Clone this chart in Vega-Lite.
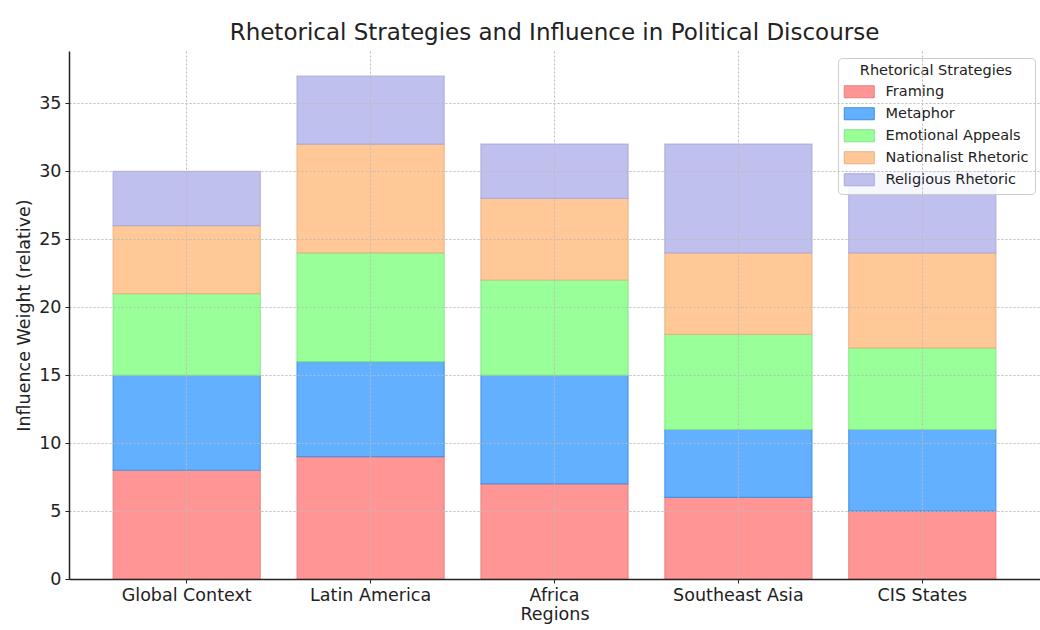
{
  "$schema": "https://vega.github.io/schema/vega-lite/v6.json",
  "width": 971,
  "height": 528,
  "autosize": {"type": "none"},
  "padding": {"left": 69, "top": 51, "right": 0, "bottom": 51},
  "background": "white",
  "title": {
    "text": "Rhetorical Strategies and Influence in Political Discourse",
    "font": "DejaVu Sans",
    "fontSize": 23,
    "fontWeight": "normal",
    "color": "#222",
    "anchor": "middle",
    "offset": 6
  },
  "config": {
    "view": {"stroke": null},
    "font": "DejaVu Sans"
  },
  "data": {
    "values": [
      {"region": "Global Context", "strategy": "Framing", "o": 1, "value": 8},
      {"region": "Global Context", "strategy": "Metaphor", "o": 2, "value": 7},
      {"region": "Global Context", "strategy": "Emotional Appeals", "o": 3, "value": 6},
      {"region": "Global Context", "strategy": "Nationalist Rhetoric", "o": 4, "value": 5},
      {"region": "Global Context", "strategy": "Religious Rhetoric", "o": 5, "value": 4},
      {"region": "Latin America", "strategy": "Framing", "o": 1, "value": 9},
      {"region": "Latin America", "strategy": "Metaphor", "o": 2, "value": 7},
      {"region": "Latin America", "strategy": "Emotional Appeals", "o": 3, "value": 8},
      {"region": "Latin America", "strategy": "Nationalist Rhetoric", "o": 4, "value": 8},
      {"region": "Latin America", "strategy": "Religious Rhetoric", "o": 5, "value": 5},
      {"region": "Africa", "strategy": "Framing", "o": 1, "value": 7},
      {"region": "Africa", "strategy": "Metaphor", "o": 2, "value": 8},
      {"region": "Africa", "strategy": "Emotional Appeals", "o": 3, "value": 7},
      {"region": "Africa", "strategy": "Nationalist Rhetoric", "o": 4, "value": 6},
      {"region": "Africa", "strategy": "Religious Rhetoric", "o": 5, "value": 4},
      {"region": "Southeast Asia", "strategy": "Framing", "o": 1, "value": 6},
      {"region": "Southeast Asia", "strategy": "Metaphor", "o": 2, "value": 5},
      {"region": "Southeast Asia", "strategy": "Emotional Appeals", "o": 3, "value": 7},
      {"region": "Southeast Asia", "strategy": "Nationalist Rhetoric", "o": 4, "value": 6},
      {"region": "Southeast Asia", "strategy": "Religious Rhetoric", "o": 5, "value": 8},
      {"region": "CIS States", "strategy": "Framing", "o": 1, "value": 5},
      {"region": "CIS States", "strategy": "Metaphor", "o": 2, "value": 6},
      {"region": "CIS States", "strategy": "Emotional Appeals", "o": 3, "value": 6},
      {"region": "CIS States", "strategy": "Nationalist Rhetoric", "o": 4, "value": 7},
      {"region": "CIS States", "strategy": "Religious Rhetoric", "o": 5, "value": 6}
    ]
  },
  "mark": {"type": "bar", "strokeWidth": 1.2, "strokeOpacity": 0.8},
  "encoding": {
    "x": {
      "field": "region",
      "type": "nominal",
      "sort": ["Global Context", "Latin America", "Africa", "Southeast Asia", "CIS States"],
      "scale": {"paddingInner": 0.2, "paddingOuter": 0.24},
      "axis": {
        "title": "Regions",
        "titleFontSize": 17.5,
        "titleFontWeight": "normal",
        "titleColor": "#222",
        "titlePadding": 2,
        "labelAngle": 0,
        "labelFontSize": 17.5,
        "labelColor": "#222",
        "labelPadding": 3,
        "domainColor": "#222",
        "domainWidth": 1.5,
        "tickColor": "#222",
        "tickSize": 4,
        "grid": true,
        "gridColor": "#bbbbbb",
        "gridDash": [2, 2],
        "gridWidth": 1,
        "zindex": 1
      }
    },
    "y": {
      "field": "value",
      "type": "quantitative",
      "stack": "zero",
      "scale": {"domain": [0, 38.85], "nice": false},
      "axis": {
        "title": "Influence Weight (relative)",
        "titleFontSize": 17.5,
        "titleFontWeight": "normal",
        "titleColor": "#222",
        "titlePadding": 5,
        "values": [0, 5, 10, 15, 20, 25, 30, 35],
        "labelFontSize": 17.5,
        "labelColor": "#222",
        "labelPadding": 4,
        "domainColor": "#222",
        "domainWidth": 1.5,
        "tickColor": "#222",
        "tickSize": 4,
        "grid": true,
        "gridColor": "#bbbbbb",
        "gridDash": [2, 2],
        "gridWidth": 1,
        "zindex": 1
      }
    },
    "order": {"field": "o", "type": "quantitative"},
    "color": {
      "field": "strategy",
      "type": "nominal",
      "scale": {
        "domain": ["Framing", "Metaphor", "Emotional Appeals", "Nationalist Rhetoric", "Religious Rhetoric"],
        "range": ["#ff9595", "#62b0ff", "#99ff99", "#ffc896", "#c0c0ef"]
      },
      "legend": {
        "title": "Rhetorical Strategies",
        "orient": "none",
        "legendX": 769,
        "legendY": 7,
        "titleFontSize": 14.5,
        "titleFontWeight": "normal",
        "titleColor": "#222",
        "titleAnchor": "middle",
        "titlePadding": 6,
        "labelFontSize": 14.5,
        "labelColor": "#222",
        "labelOffset": 19,
        "symbolOffset": 8,
        "symbolType": "M-2.5,-1L2.5,-1L2.5,1L-2.5,1Z",
        "symbolSize": 144,
        "symbolStrokeWidth": 1,
        "symbolOpacity": 1,
        "rowPadding": 5,
        "padding": 6,
        "fillColor": "rgba(255,255,255,0.85)",
        "strokeColor": "#cccccc",
        "cornerRadius": 4
      }
    },
    "stroke": {
      "field": "strategy",
      "type": "nominal",
      "scale": {
        "domain": ["Framing", "Metaphor", "Emotional Appeals", "Nationalist Rhetoric", "Religious Rhetoric"],
        "range": ["#e57f7f", "#3d8ee0", "#80e680", "#e6b080", "#a8a8d8"]
      },
      "legend": null
    }
  }
}
